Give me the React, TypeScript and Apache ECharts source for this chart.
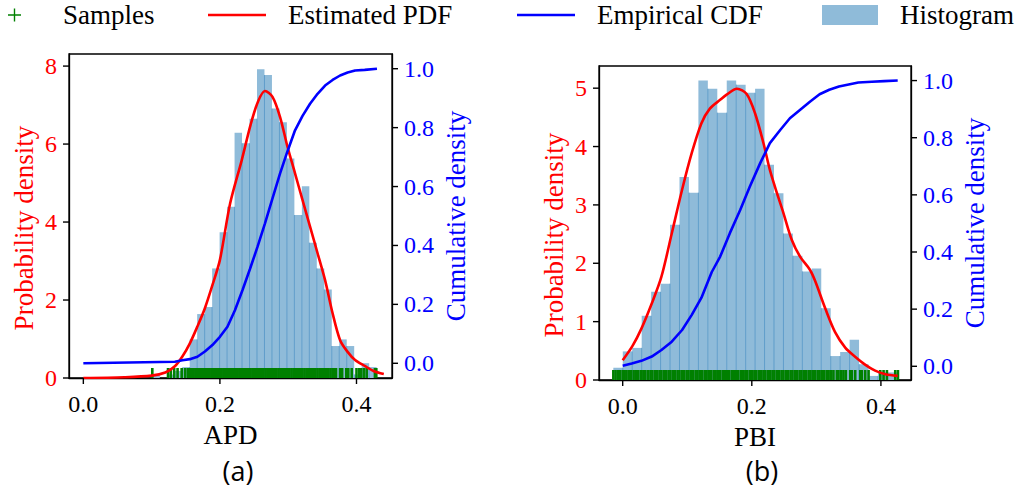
import { useEffect, useRef } from "react";
import * as echarts from "echarts";

// ---------- Panel (a): APD ----------
const apdBinStart = 0.101;
const apdBinWidth = 0.01095;
const apdHist = [
  0.09, 0, 0.09, 0.18, 0.28, 0.99, 1.64, 1.82, 2.81, 3.74, 4.39, 6.29, 6.02, 6.65, 7.92,
  7.77, 6.91, 6.56, 5.63, 4.18, 4.92, 3.47, 2.81, 2.27, 0.82, 0.99, 0.82, 0.09, 0.38, 0.28,
];
const apdPdfX = [0, 0.06, 0.1, 0.12, 0.134, 0.145, 0.156, 0.167, 0.178, 0.189, 0.2, 0.215, 0.232, 0.245, 0.256, 0.266, 0.277, 0.288, 0.299, 0.31, 0.321, 0.332, 0.343, 0.354, 0.365, 0.376, 0.387, 0.398, 0.412, 0.425, 0.44];
const apdPdfY = [0, 0.02, 0.06, 0.14, 0.3, 0.55, 0.89, 1.32, 1.79, 2.38, 3.03, 4.48, 5.59, 6.5, 7.1, 7.36, 7.21, 6.7, 5.93, 5.25, 4.56, 3.88, 3.2, 2.51, 1.66, 0.97, 0.67, 0.46, 0.31, 0.18, 0.1];
const apdCdfX = [0, 0.134, 0.145, 0.156, 0.167, 0.178, 0.189, 0.2, 0.211, 0.222, 0.233, 0.244, 0.255, 0.266, 0.277, 0.288, 0.299, 0.31, 0.321, 0.332, 0.343, 0.354, 0.365, 0.376, 0.387, 0.398, 0.412, 0.43];
const apdCdfY = [0, 0.005, 0.01, 0.014, 0.022, 0.04, 0.062, 0.09, 0.124, 0.18, 0.248, 0.32, 0.395, 0.475, 0.56, 0.644, 0.72, 0.791, 0.84, 0.881, 0.915, 0.943, 0.962, 0.977, 0.987, 0.994, 0.996, 1.0];
const apdSamples = [
  0.101, 0.124, 0.128, 0.133, 0.138, 0.144, 0.149, 0.153,
  0.156, 0.158, 0.161, 0.164, 0.166, 0.169, 0.172, 0.175, 0.177, 0.18, 0.183, 0.185, 0.188, 0.191, 0.194, 0.196, 0.199,
  0.202, 0.205, 0.207, 0.21, 0.213, 0.215, 0.218, 0.221, 0.224, 0.226, 0.229, 0.232, 0.234, 0.237, 0.24, 0.243, 0.245,
  0.248, 0.251, 0.253, 0.256, 0.259, 0.262, 0.264, 0.267, 0.27, 0.272, 0.275, 0.278, 0.281, 0.283, 0.286, 0.289, 0.291,
  0.294, 0.297, 0.3, 0.302, 0.305, 0.308, 0.31, 0.313, 0.316, 0.319, 0.321, 0.324, 0.327, 0.329, 0.332, 0.335, 0.338,
  0.34, 0.343, 0.346, 0.348, 0.351, 0.354, 0.357, 0.359, 0.362, 0.365, 0.367, 0.37,
  0.376, 0.379, 0.385, 0.388, 0.393, 0.4, 0.404, 0.407, 0.411, 0.415, 0.427, 0.429,
];

// ---------- Panel (b): PBI ----------
const pbiBinStart = -0.0145;
const pbiBinWidth = 0.01464;
const pbiHist = [
  0.21, 0.49, 0.55, 1.1, 1.51, 1.65, 2.66, 3.48, 3.21, 5.13, 4.99, 4.58, 5.13, 5.06, 4.92,
  4.99, 3.69, 3.2, 2.51, 2.13, 1.86, 1.91, 1.23, 0.41, 0.48, 0.69, 0.27, 0.07, 0.13, 0.13,
];
const pbiPdfX = [0, 0.015, 0.029, 0.045, 0.06, 0.076, 0.092, 0.107, 0.122, 0.135, 0.151, 0.161, 0.177, 0.192, 0.205, 0.218, 0.228, 0.239, 0.249, 0.262, 0.275, 0.29, 0.298, 0.314, 0.329, 0.345, 0.36, 0.376, 0.391, 0.407, 0.426];
const pbiPdfY = [0.34, 0.58, 0.88, 1.31, 1.77, 2.51, 3.26, 3.89, 4.4, 4.65, 4.8, 4.89, 4.99, 4.9, 4.57, 4.06, 3.6, 3.2, 2.86, 2.4, 2.11, 1.89, 1.7, 1.22, 0.82, 0.55, 0.4, 0.26, 0.16, 0.1, 0.07];
const pbiCdfX = [0, 0.014, 0.029, 0.045, 0.06, 0.076, 0.092, 0.107, 0.122, 0.138, 0.151, 0.166, 0.182, 0.197, 0.213, 0.228, 0.244, 0.259, 0.275, 0.29, 0.305, 0.32, 0.335, 0.35, 0.365, 0.386, 0.405, 0.426];
const pbiCdfY = [0.002, 0.01, 0.019, 0.034, 0.057, 0.086, 0.127, 0.18, 0.24, 0.33, 0.384, 0.466, 0.547, 0.629, 0.711, 0.781, 0.827, 0.868, 0.898, 0.926, 0.952, 0.968, 0.979, 0.986, 0.993, 0.996, 0.998, 1.0];
const pbiSamples = [
  -0.0145, -0.011, -0.007, -0.004, 0.0, 0.003, 0.006, 0.01, 0.013, 0.017, 0.021, 0.024, 0.028, 0.032, 0.035, 0.039, 0.043, 0.046,
  0.05, 0.053, 0.057, 0.06, 0.064, 0.067, 0.071, 0.074, 0.078, 0.081, 0.085, 0.088, 0.092, 0.095, 0.099, 0.102, 0.106,
  0.109, 0.113, 0.116, 0.12, 0.123, 0.127, 0.13, 0.134, 0.137, 0.141, 0.144, 0.148, 0.151, 0.155, 0.158, 0.162, 0.165,
  0.169, 0.172, 0.176, 0.179, 0.183, 0.186, 0.19, 0.193, 0.197, 0.2, 0.204, 0.207, 0.211, 0.214, 0.218, 0.221, 0.225,
  0.228, 0.232, 0.235, 0.239, 0.242, 0.246, 0.249, 0.253, 0.256, 0.26, 0.263, 0.267, 0.27, 0.274, 0.277, 0.281, 0.284,
  0.288, 0.291, 0.295, 0.298, 0.302, 0.305, 0.309, 0.312, 0.316, 0.319, 0.323,
  0.3265, 0.3317, 0.3343, 0.3384, 0.342, 0.3457, 0.3524, 0.355, 0.3602, 0.3679, 0.3705, 0.3757, 0.3809, 0.399, 0.4041,
  0.4093, 0.4222, 0.4264,
];

// ---------- Tick labels ----------
const xTicks = [0, 0.2, 0.4];
const apdPdfTicks = [0, 2, 4, 6, 8];
const pbiPdfTicks = [0, 1, 2, 3, 4, 5];
const cdfTicks = [0, 0.2, 0.4, 0.6, 0.8, 1.0];
const panelLabels = ["(a)", "(b)"];
const xNames = ["APD", "PBI"];

const SERIF = '"Liberation Serif", "DejaVu Serif", serif';
const RED = "#ff0000";
const BLUE = "#0000ff";
const GREEN = "#008000";
const HIST = "#8fbbd9";
const TICK_LEN = 6;

const zip = (xs: number[], ys: number[]) => xs.map((x, i) => [x, ys[i]]);
const histData = (start: number, w: number, hs: number[]) =>
  hs.map((h, i) => [start + i * w, start + (i + 1) * w, h, i > 0 ? hs[i - 1] : 0]);

const histRender = (params: any, api: any) => {
  const x0 = api.value(0);
  const x1 = api.value(1);
  const h = api.value(2);
  const hp = api.value(3);
  const p0 = api.coord([x0, h]);
  const p1 = api.coord([x1, 0]);
  const children: any[] = [
    {
      type: "rect",
      shape: { x: p0[0], y: p0[1], width: p1[0] - p0[0], height: p1[1] - p0[1] },
      style: { fill: HIST },
    },
  ];
  const hm = Math.min(h, hp);
  if (hm > 0) {
    const q = api.coord([x0, hm]);
    children.push({
      type: "line",
      shape: { x1: p0[0], y1: q[1], x2: p0[0], y2: p1[1] },
      style: { stroke: "#5f9dca", lineWidth: 1 },
    });
  }
  return { type: "group", children };
};

// tick marks drawn through the axes' scales: kind 0 = bottom, 1 = left, 2 = right
const tickRender = (params: any, api: any) => {
  const p = api.coord([api.value(0), api.value(1)]);
  const kind = api.value(2);
  const shape =
    kind === 0
      ? { x1: p[0], y1: p[1], x2: p[0], y2: p[1] + TICK_LEN }
      : kind === 1
      ? { x1: p[0], y1: p[1], x2: p[0] - TICK_LEN, y2: p[1] }
      : { x1: p[0], y1: p[1], x2: p[0] + TICK_LEN, y2: p[1] };
  return { type: "line", shape, style: { stroke: "#000", lineWidth: 1.4 } };
};

const spine = { show: true, onZero: false, lineStyle: { color: "#000", width: 1.3 } };

export default function App() {
  const ref = useRef<HTMLDivElement>(null);
  useEffect(() => {
    if (!ref.current) return;
    const chart = echarts.init(ref.current, null, { renderer: "svg" });

    const grids = [
      { left: 69, top: 54, width: 323, height: 324 },
      { left: 599, top: 66, width: 312, height: 314 },
    ].map((g) => ({ ...g, show: true, borderColor: "#000", borderWidth: 1.3, backgroundColor: "transparent" }));

    const xRanges = [
      [-0.021, 0.452],
      [-0.0367, 0.4466],
    ];
    const xAxes = xRanges.map((r, i) => ({
      type: "value",
      gridIndex: i,
      position: "bottom",
      min: r[0],
      max: r[1],
      splitLine: { show: false },
      axisLine: spine,
      axisTick: { show: false },
      axisLabel: {
        customValues: xTicks,
        formatter: (v: number) => v.toFixed(1),
        color: "#000",
        fontFamily: SERIF,
        fontSize: 24,
        margin: 14,
      },
      name: xNames[i],
      nameLocation: "middle",
      nameGap: 43,
      nameTextStyle: { color: "#000", fontFamily: SERIF, fontSize: 27, lineHeight: 27 },
    }));

    const pdfMax = [8.31, 5.38];
    const pdfTicks = [apdPdfTicks, pbiPdfTicks];
    const cdfRanges = [
      [-0.05, 1.05],
      [-0.048, 1.051],
    ];
    const yAxes: any[] = [];
    [0, 1].forEach((i) => {
      yAxes.push({
        type: "value",
        gridIndex: i,
        position: "left",
        min: 0,
        max: pdfMax[i],
        splitLine: { show: false },
        axisLine: spine,
        axisTick: { show: false },
        axisLabel: {
          customValues: pdfTicks[i],
          formatter: (v: number) => String(Math.round(v)),
          color: RED,
          fontFamily: SERIF,
          fontSize: 24,
          margin: 12,
        },
        name: "Probability density",
        nameLocation: "middle",
        nameRotate: 90,
        nameGap: 32,
        nameTextStyle: { color: RED, fontFamily: SERIF, fontSize: 27, padding: [0, 24, 0, 0] },
      });
      yAxes.push({
        type: "value",
        gridIndex: i,
        position: "right",
        min: cdfRanges[i][0],
        max: cdfRanges[i][1],
        splitLine: { show: false },
        axisLine: spine,
        axisTick: { show: false },
        axisLabel: {
          customValues: cdfTicks,
          formatter: (v: number) => v.toFixed(1),
          color: BLUE,
          fontFamily: SERIF,
          fontSize: 24,
          margin: 12,
        },
        name: "Cumulative density",
        nameLocation: "middle",
        nameRotate: 90,
        nameGap: 50,
        nameTextStyle: { color: BLUE, fontFamily: SERIF, fontSize: 27 },
      });
    });

    const panels = [
      { hist: histData(apdBinStart, apdBinWidth, apdHist), pdf: zip(apdPdfX, apdPdfY), cdf: zip(apdCdfX, apdCdfY), samples: apdSamples },
      { hist: histData(pbiBinStart, pbiBinWidth, pbiHist), pdf: zip(pbiPdfX, pbiPdfY), cdf: zip(pbiCdfX, pbiCdfY), samples: pbiSamples },
    ];
    const series: any[] = [];
    panels.forEach((p, i) => {
      series.push({
        name: "Histogram",
        type: "custom",
        xAxisIndex: i,
        yAxisIndex: 2 * i,
        renderItem: histRender,
        itemStyle: { color: HIST },
        encode: { x: [0, 1], y: 2 },
        data: p.hist,
        clip: true,
        z: 1,
      });
      series.push({
        name: "Samples",
        type: "scatter",
        xAxisIndex: i,
        yAxisIndex: 2 * i,
        symbol: "rect",
        symbolSize: [2.6, 10],
        symbolOffset: [0, -5],
        itemStyle: { color: GREEN, opacity: 1 },
        data: p.samples.map((s) => [s, 0]),
        silent: true,
        z: 2,
      });
      series.push({
        name: "Estimated PDF",
        type: "line",
        xAxisIndex: i,
        yAxisIndex: 2 * i,
        showSymbol: false,
        smooth: 0.3,
        lineStyle: { color: RED, width: 2.6 },
        itemStyle: { color: RED },
        data: p.pdf,
        z: 3,
      });
      series.push({
        name: "Empirical CDF",
        type: "line",
        xAxisIndex: i,
        yAxisIndex: 2 * i + 1,
        showSymbol: false,
        lineStyle: { color: BLUE, width: 2.6 },
        itemStyle: { color: BLUE },
        data: p.cdf,
        z: 4,
      });
      // tick marks
      series.push({
        type: "custom",
        xAxisIndex: i,
        yAxisIndex: 2 * i,
        renderItem: tickRender,
        clip: false,
        silent: true,
        encode: { x: 0, y: 1 },
        data: [
          ...xTicks.map((v) => [v, 0, 0]),
          ...pdfTicks[i].map((v) => [xRanges[i][0], v, 1]),
        ],
        z: 5,
      });
      series.push({
        type: "custom",
        xAxisIndex: i,
        yAxisIndex: 2 * i + 1,
        renderItem: tickRender,
        clip: false,
        silent: true,
        encode: { x: 0, y: 1 },
        data: cdfTicks.map((v) => [xRanges[i][1], v, 2]),
        z: 5,
      });
    });

    const legendText = { fontFamily: SERIF, fontSize: 27, color: "#000", lineHeight: 28 };
    const plusIcon = "path://M6.25,0 H7.75 V6.25 H14 V7.75 H7.75 V14 H6.25 V7.75 H0 V6.25 H6.25 Z";
    const legends = [
      { data: [{ name: "Samples", icon: plusIcon }], left: 8, itemWidth: 13, itemHeight: 13, pad: 37 },
      { data: [{ name: "Estimated PDF", icon: "rect" }], left: 208, itemWidth: 58, itemHeight: 2.5, pad: 17 },
      { data: [{ name: "Empirical CDF", icon: "rect" }], left: 517, itemWidth: 58, itemHeight: 2.5, pad: 17 },
      { data: [{ name: "Histogram", icon: "rect" }], left: 822, itemWidth: 56, itemHeight: 20, pad: 17 },
    ].map((l) => ({
      data: l.data,
      left: l.left,
      top: 1,
      padding: 0,
      itemWidth: l.itemWidth,
      itemHeight: l.itemHeight,
      selectedMode: false,
      textStyle: { ...legendText, padding: [0, 0, 0, l.pad] },
    }));

    chart.setOption({
      animation: false,
      backgroundColor: "#fff",
      grid: grids,
      xAxis: xAxes,
      yAxis: yAxes,
      legend: legends,
      series,
      graphic: panelLabels.map((t, i) => ({
        type: "text",
        x: i === 0 ? 238 : 762,
        y: 470,
        style: {
          text: t,
          fill: "#000",
          font: '27px "Open Sans", "Noto Sans", sans-serif',
          textAlign: "center",
          textVerticalAlign: "middle",
        },
      })),
    });
    return () => chart.dispose();
  }, []);
  return <div ref={ref} style={{ position: "absolute", left: 0, top: 0, width: 1019, height: 493 }} />;
}
